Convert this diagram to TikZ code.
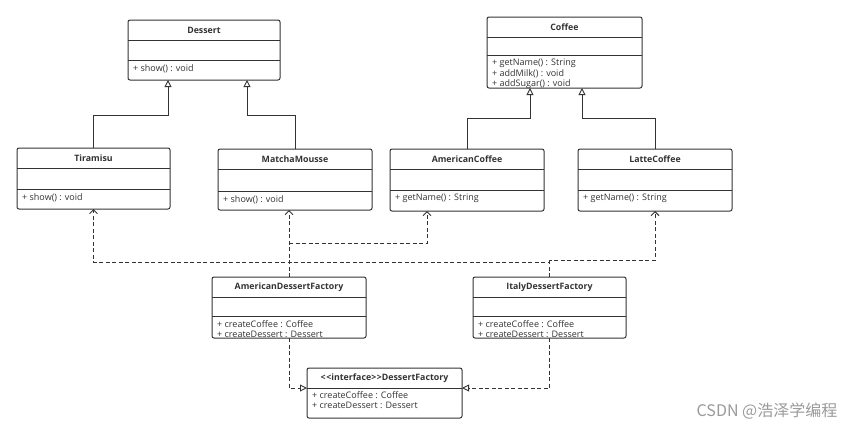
\documentclass[tikz,border=0pt]{standalone}
\usepackage{fontspec}
\setmainfont{Open Sans}
\newfontfamily\cjk{Noto Sans CJK SC}
\usetikzlibrary{arrows.meta}

\definecolor{ink}{HTML}{333333}
\definecolor{wmark}{HTML}{9A9A9A}

% class box: name, top-left, width, height, title, offset of 2nd line, operations
\newcommand{\classbox}[7]{%
  \node[cls, minimum width=#3, minimum height=#4, anchor=north west] (#1) at #2 {};
  \node[clsname] (#1-name) at ([yshift=-10]#1.north) {#5};
  \draw[sep] ([yshift=-20]#1.north west) -- ([yshift=-20]#1.north east);
  \draw[sep] ([yshift=-#6]#1.north west) -- ([yshift=-#6]#1.north east);
  \node[ops] (#1-ops) at ([xshift=4,yshift=-#6-3]#1.north west) {#7};
}

\begin{document}
\begin{tikzpicture}[
    x=1pt, y=-1pt,           % pixel-like units, y downwards
    cls/.style={draw=ink, line width=1pt, rounded corners=2pt, inner sep=0pt, outer sep=0pt},
    clsname/.style={font=\fontsize{8.8}{10}\selectfont\bfseries, text=ink, inner sep=0pt},
    ops/.style={anchor=north west, align=left, inner sep=1pt, text=ink,
                font=\fontsize{9}{10.5}\selectfont},
    sep/.style={draw=ink, line width=1pt},
    inherit/.style={draw=ink, line width=0.9pt, -{Triangle[open, length=7pt, width=7pt]}},
    depend/.style={draw=ink, line width=0.9pt, dash pattern=on 4pt off 2.5pt,
                   -{Straight Barb[length=4pt, width=8pt]}},
    realize/.style={draw=ink, line width=0.9pt, dash pattern=on 4pt off 2.5pt,
                    -{Triangle[open, length=7pt, width=7pt]}}]
    \useasboundingbox (0,0) rectangle (865,432);

    % Products
    \classbox{dessert}{(128,20)}{152}{60}{Dessert}{40}{+ show() : void}
    \classbox{coffee}{(487,17)}{155}{71}{Coffee}{38}{+ getName() : String\\+ addMilk() : void\\+ addSugar() : void}
    \classbox{tiramisu}{(17,148)}{153}{61}{Tiramisu}{41}{+ show() : void}
    \classbox{matcha}{(218,149)}{154}{61}{MatchaMousse}{42}{+ show() : void}
    \classbox{amcoffee}{(390,149)}{154}{62}{AmericanCoffee}{41}{+ getName() : String}
    \classbox{latte}{(578,149)}{154}{62}{LatteCoffee}{41}{+ getName() : String}

    % Factories
    \classbox{amfactory}{(212,277)}{154}{61}{AmericanDessertFactory}{39}{+ createCoffee : Coffee\\+ createDessert : Dessert}
    \classbox{itfactory}{(473,277)}{153}{61}{ItalyDessertFactory}{39}{+ createCoffee : Coffee\\+ createDessert : Dessert}

    % Interface
    \node[cls, minimum width=155, minimum height=50, anchor=north west] (iface) at (307,368) {};
    \node[clsname] (iface-name) at ([yshift=-10]iface.north)
        {<\kern0.6pt<interface>\kern0.6pt>DessertFactory};
    \draw[sep] ([yshift=-20]iface.north west) -- ([yshift=-20]iface.north east);
    \node[ops] (iface-ops) at ([xshift=4,yshift=-22]iface.north west)
        {+ createCoffee : Coffee\\+ createDessert : Dessert};

    % Inheritance
    \draw[inherit] (tiramisu.north) -- ++(0,-33) -| ([xshift=-36]dessert.south);
    \draw[inherit] (matcha.north) -- ++(0,-34) -| ([xshift=43]dessert.south);
    \draw[inherit] (amcoffee.north) -- ++(0,-31) -| ([xshift=-34.5]coffee.south);
    \draw[inherit] (latte.north) -- ++(0,-31) -| ([xshift=17.5]coffee.south);

    % Dependencies
    \draw[depend] (amfactory.north) -- ([xshift=-6]matcha.south);
    \draw[depend] (amfactory.north) ++(0,-34) -| ([xshift=-40]amcoffee.south);
    \draw[depend] (itfactory.north) -- ++(0,-15) -| (tiramisu.south);
    \draw[depend] (itfactory.north) ++(0,-15) -- ++(0,-2) -| (latte.south);

    % Realization
    \draw[realize] (amfactory.south) |- ([yshift=5]iface.west);
    \draw[realize] (itfactory.south) |- ([yshift=5]iface.east);

    % Watermark
    \node[text=wmark, font=\cjk\fontsize{16}{18}\selectfont, inner sep=0pt] (wm) at (767,411) {CSDN @浩泽学编程};
\end{tikzpicture}
\end{document}
